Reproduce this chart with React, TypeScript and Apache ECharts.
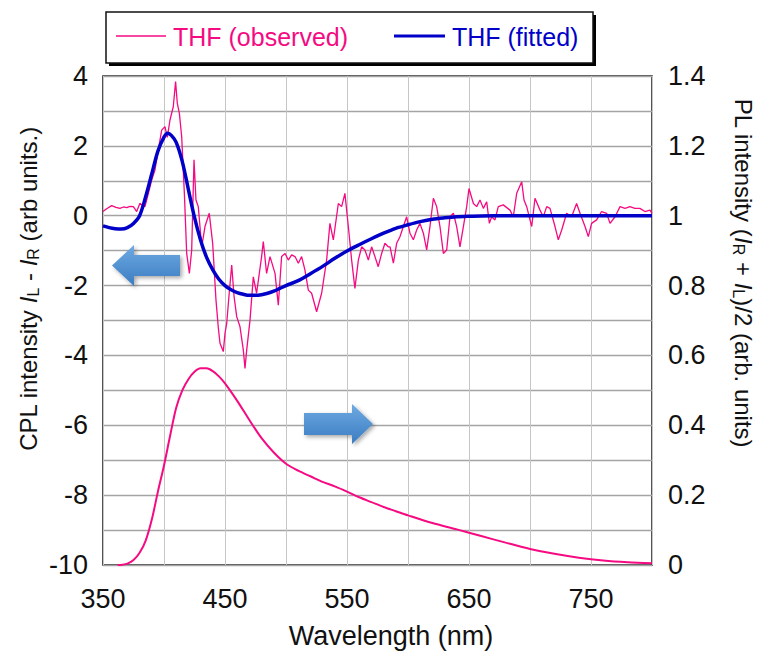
import React, { useEffect, useRef } from "react";
import * as echarts from "echarts";

// ---- data ----
const observedNm = [
  350, 353, 357.1, 360.6, 363.9, 366.7, 369.4, 372.1, 374.9, 377.6, 380.3, 382.5, 384.4, 387.2, 389.9,
  392.6, 395.3, 398.1, 400.8, 402.7, 404.9, 407.6, 409.5, 410.9, 412.6, 414.5, 416.7, 418.6, 420.8,
  422.7, 424.6, 426.2, 428.1, 430.9, 433.6, 437.1, 439.9, 442.6, 444.5, 445.9, 448.6, 450.0, 451.4,
  453.5, 455.5, 457.4, 459.6, 462.3, 465.0, 466.4, 467.8, 470.5, 473.2, 475.9, 480.0, 481.4, 484.1,
  486.9, 491.0, 493.7, 496.4, 499.2, 501.9, 504.6, 507.4, 510.1, 512.8, 515.5, 518.3, 521.0, 525.1,
  529.2, 533.3, 536.0, 538.8, 542.9, 545.6, 548.3, 551.1, 553.8, 556.5, 559.3, 562.0, 564.7, 567.5,
  570.2, 572.9, 575.6, 578.4, 581.1, 583.8, 585.3, 588.0, 590.7, 593.4, 596.2, 598.9, 601.6, 604.4,
  607.1, 609.8, 612.6, 615.3, 618.0, 620.8, 623.5, 626.2, 629.0, 631.7, 634.4, 637.2, 639.9, 642.6,
  645.4, 648.1, 650.0, 653.6, 656.3, 659.0, 661.8, 664.5, 666.7, 668.6, 671.3, 674.0, 678.1, 683.6,
  686.3, 689.1, 693.2, 695.1, 697.3, 701.4, 704.1, 708.2, 710.9, 713.7, 716.4, 720.5, 723.2, 726.0,
  730.0, 734.1, 738.2, 741.0, 745.1, 747.8, 750.5, 754.6, 758.7, 762.8, 765.6, 769.7, 773.8, 777.9,
  781.9, 786.0, 790.1, 794.2, 798.3, 800,
];
const observedCpl = [
  0.12, 0.2, 0.29, 0.24, 0.21, 0.25, 0.23, 0.27, 0.26, 0.12, 0.36, 0.28, 0.26, 0.64, 1.02,
  1.31, 1.88, 2.45, 2.55, 2.24, 2.74, 3.12, 3.84, 3.22, 2.93, 2.26, 0.64, -1.08, -1.65,
  -0.98, 1.6, 0.45, 0.26, -0.89, -0.31, 0.07, -0.79, -2.41, -3.2, -3.65, -3.89, -3.37, -3.08,
  -2.2, -1.41, -2.3, -2.89, -3.18, -3.84, -4.37, -3.84, -2.99, -1.75, -2.22, -1.17, -0.74, -1.65,
  -1.17, -1.65, -2.56, -1.17, -1.08, -1.27, -1.12, -1.17, -1.36, -1.17, -1.55, -2.13, -2.22, -2.75,
  -2.22, -1.27, -0.22, -0.69, 0.35, 0.26, 0.64, -0.31, -1.27, -2.08, -1.27, -0.89, -0.98, -1.27,
  -0.89, -1.17, -1.46, -1.08, -0.79, -0.89, -0.89, -1.36, -0.79, -0.6, -0.31, -0.03, -0.5, -0.69,
  -0.41, -0.22, -0.5, -0.98, -0.31, 0.5, 0.26, -0.31, -1.08, -0.98, -0.03, 0.07, -0.31, -0.89,
  -0.31, 0.26, 0.78, 0.35, 0.26, 0.45, 0.21, 0.4, -0.22, -0.03, -0.12, 0.26, 0.31, 0.16,
  -0.03, 0.64, 0.97, 0.45, 0.26, -0.31, 0.5, 0.16, -0.03, 0.26, 0.21, -0.31, -0.69, -0.41,
  0.07, -0.03, 0.35, 0.07, -0.31, -0.6, -0.22, -0.12, 0.12, 0.07, -0.22, -0.03, 0.26, 0.21,
  0.26, 0.21, 0.21, 0.12, 0.16, 0.07,
];

const fittedNm = [
  350, 355, 360, 365, 370, 375, 380, 385, 390, 395, 400, 403, 406, 410, 415, 420, 425, 430, 435, 440,
  445, 450, 455, 460, 465, 470, 475, 480, 485, 490, 495, 500, 510, 520, 530, 540, 550, 560, 570, 580,
  590, 600, 610, 620, 630, 640, 650, 660, 680, 800,
];
const fittedCpl = [
  -0.29, -0.34, -0.37, -0.38, -0.34, -0.22, 0.0, 0.55, 1.2, 1.85, 2.25, 2.36, 2.3, 2.1, 1.55, 0.75,
  -0.05, -0.7, -1.2, -1.55, -1.82, -2.0, -2.12, -2.2, -2.25, -2.28, -2.28, -2.26, -2.22, -2.16,
  -2.08, -2.0, -1.86, -1.66, -1.45, -1.22, -1.01, -0.83, -0.66, -0.5, -0.36, -0.26, -0.17, -0.1,
  -0.06, -0.03, -0.015, -0.005, 0, 0,
];

const plNm = [
  362, 366, 370, 375, 380, 385, 390, 395, 400, 405, 410, 415, 420, 425, 430, 435, 440, 445, 450, 460,
  470, 480, 490, 500, 510, 520, 530, 540, 550, 560, 570, 580, 590, 600, 620, 640, 660, 680, 700, 720,
  740, 760, 780, 800,
];
const plIntensity = [
  0, 0.001, 0.004, 0.014, 0.035, 0.07, 0.13, 0.21, 0.285, 0.37, 0.45, 0.5, 0.532, 0.553, 0.563,
  0.563, 0.555, 0.54, 0.52, 0.47, 0.415, 0.363, 0.322, 0.29, 0.27, 0.254, 0.238, 0.225, 0.21,
  0.194, 0.18, 0.166, 0.154, 0.142, 0.12, 0.102, 0.083, 0.064, 0.046, 0.032, 0.021, 0.013, 0.008,
  0.005,
];

const xLabels = [350, 450, 550, 650, 750];
const leftLabels = [4, 2, 0, -2, -4, -6, -8, -10];
const rightLabels = [0, 0.2, 0.4, 0.6, 0.8, 1, 1.2, 1.4];

const PINK = "#F50A82";
const BLUE = "#0000C8";
const FONT = "'Liberation Sans', Arial, sans-serif";

const zip = (a: number[], b: number[]) => a.map((v, i) => [v, b[i]]);

export default function App() {
  const ref = useRef<HTMLDivElement>(null);
  useEffect(() => {
    if (!ref.current) return;
    const chart = echarts.init(ref.current, undefined, { renderer: "svg" });
    const mkFill = () =>
      new echarts.graphic.LinearGradient(0, 0, 0, 1, [
        { offset: 0, color: "#6EAAE2" },
        { offset: 1, color: "#3B7CC2" },
      ]);
    const rich = {
      i: { fontStyle: "italic", fontSize: 24, lineHeight: 26, fontFamily: FONT, fill: "#111" },
      s: { fontSize: 16, lineHeight: 16, verticalAlign: "bottom", fontFamily: FONT, fill: "#111" },
      n: { fontSize: 24, lineHeight: 26, fontFamily: FONT, fill: "#111" },
    } as any;
    chart.setOption({
      animation: false,
      backgroundColor: "#fff",
      textStyle: { fontFamily: FONT },
      grid: {
        left: 103,
        top: 76,
        width: 549,
        height: 489,
        show: true,
        borderColor: "#1a1a1a",
        borderWidth: 1.5,
        backgroundColor: "transparent",
        containLabel: false,
      },
      xAxis: {
        type: "value",
        min: 350,
        max: 800,
        interval: 50,
        axisLine: { show: false },
        axisTick: { show: false },
        splitLine: { show: true, lineStyle: { color: "#c6c6c6", width: 1 } },
        axisLabel: {
          fontSize: 27,
          color: "#111",
          margin: 20,
          formatter: (v: number) => (xLabels.includes(v) ? String(v) : ""),
        },
      },
      yAxis: [
        {
          type: "value",
          min: -10,
          max: 4,
          interval: 1,
          axisLine: { show: false },
          axisTick: { show: false },
          splitLine: { show: true, lineStyle: { color: "#a4a4a4", width: 1.3 } },
          axisLabel: {
            fontSize: 27,
            color: "#111",
            margin: 15,
            formatter: (v: number) => (leftLabels.includes(v) ? String(v) : ""),
          },
        },
        {
          type: "value",
          min: 0,
          max: 1.4,
          interval: 0.2,
          position: "right",
          axisLine: { show: false },
          axisTick: { show: false },
          splitLine: { show: false },
          axisLabel: {
            fontSize: 27,
            color: "#111",
            margin: 16,
            formatter: (v: number) => {
              const r = Math.round(v * 10) / 10;
              return rightLabels.includes(r) ? String(r) : "";
            },
          },
        },
      ],
      series: [
        {
          type: "line",
          name: "PL",
          yAxisIndex: 1,
          data: zip(plNm, plIntensity),
          showSymbol: false,
          smooth: 0.3,
          lineStyle: { color: PINK, width: 2 },
          z: 2,
        },
        {
          type: "line",
          name: "THF (observed)",
          yAxisIndex: 0,
          data: zip(observedNm, observedCpl),
          showSymbol: false,
          lineStyle: { color: PINK, width: 1.3 },
          z: 3,
        },
        {
          type: "line",
          name: "THF (fitted)",
          yAxisIndex: 0,
          data: zip(fittedNm, fittedCpl),
          showSymbol: false,
          smooth: 0.3,
          lineStyle: { color: BLUE, width: 3.5 },
          z: 4,
        },
      ],
      graphic: [
        // legend
        { type: "rect", shape: { x: 109, y: 15, width: 487, height: 51 }, style: { fill: "#000" }, z: 10 },
        {
          type: "rect",
          shape: { x: 106, y: 12, width: 487, height: 51 },
          style: { fill: "#fff", stroke: "#111", lineWidth: 1.5 },
          z: 11,
        },
        { type: "line", shape: { x1: 116, y1: 36, x2: 166, y2: 36 }, style: { stroke: PINK, lineWidth: 1.5 }, z: 12 },
        {
          type: "text",
          x: 173,
          y: 37,
          style: { text: "THF (observed)", fill: PINK, font: `25px ${FONT}`, verticalAlign: "middle" },
          z: 12,
        },
        { type: "line", shape: { x1: 394, y1: 36, x2: 445, y2: 36 }, style: { stroke: BLUE, lineWidth: 3 }, z: 12 },
        {
          type: "text",
          x: 452,
          y: 37,
          style: { text: "THF (fitted)", fill: BLUE, font: `25px ${FONT}`, verticalAlign: "middle" },
          z: 12,
        },
        // arrows
        {
          type: "polygon",
          shape: { points: [[112, 265.5], [134, 245], [134, 255], [180, 255], [180, 276], [134, 276], [134, 286]] },
          style: { fill: mkFill(), shadowBlur: 4, shadowOffsetX: 2, shadowOffsetY: 2, shadowColor: "rgba(0,0,0,0.35)" },
          z: 20,
        },
        {
          type: "polygon",
          shape: { points: [[304, 413], [352, 413], [352, 404], [373, 424], [352, 444], [352, 435], [304, 435]] },
          style: { fill: mkFill(), shadowBlur: 4, shadowOffsetX: 2, shadowOffsetY: 2, shadowColor: "rgba(0,0,0,0.35)" },
          z: 20,
        },
        // axis titles
        {
          type: "text",
          x: 391,
          y: 636,
          style: { text: "Wavelength (nm)", fill: "#111", font: `27px ${FONT}`, align: "center", verticalAlign: "middle" },
          z: 12,
        },
        {
          type: "text",
          x: 28,
          y: 289,
          rotation: Math.PI / 2,
          style: {
            text: "{n|CPL intensity }{i|I}{s|L}{n| - }{i|I}{s|R}{n| (arb units.)}",
            rich,
            align: "center",
            verticalAlign: "middle",
          },
          z: 12,
        },
        {
          type: "text",
          x: 743,
          y: 273,
          rotation: -Math.PI / 2,
          style: {
            text: "{n|PL intensity (}{i|I}{s|R}{n| + }{i|I}{s|L}{n|)/2 (arb. units)}",
            rich,
            align: "center",
            verticalAlign: "middle",
          },
          z: 12,
        },
      ],
    });
    return () => chart.dispose();
  }, []);
  return <div ref={ref} style={{ position: "fixed", left: 0, top: 0, width: 757, height: 651 }} />;
}
